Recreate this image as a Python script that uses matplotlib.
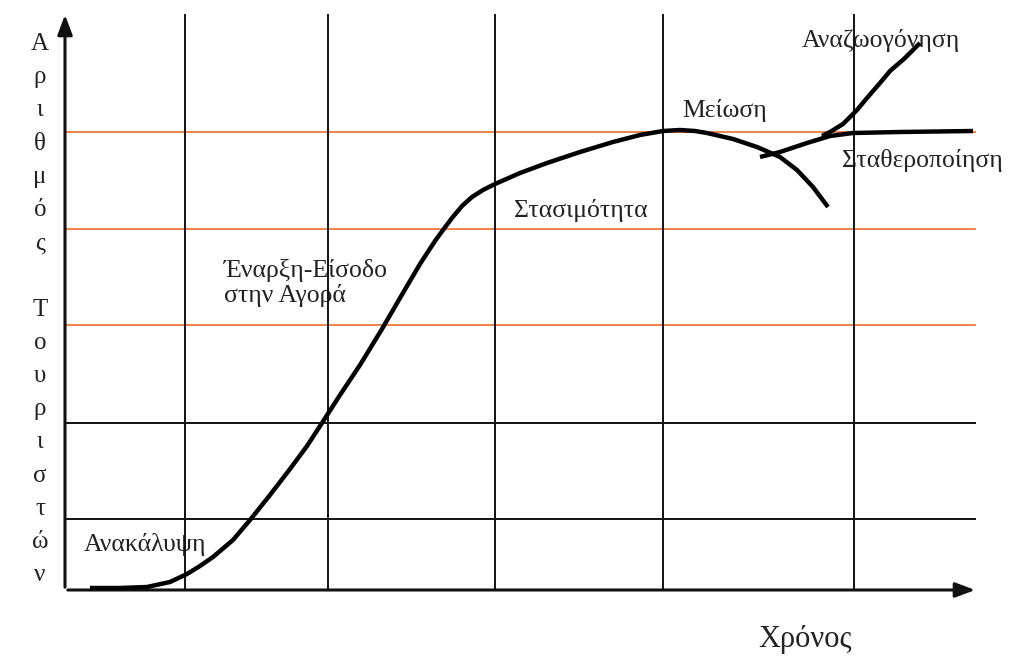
import matplotlib
matplotlib.use('Agg')
import matplotlib.pyplot as plt

# coordonnées en pixels de l'image (y vers le bas)
time_grid = [185, 328, 495, 663, 854]
level_grid_orange = [132, 229, 325]
level_grid_black = [423, 519]

x_axis = [65, 965]
y_axis = [590, 25]

main_x = [90, 120, 147, 170, 187, 200, 213, 233, 250, 270, 290, 307, 322, 340,
          360, 382, 400, 420, 435, 443, 452, 462, 472, 483, 495, 520, 547, 580,
          613, 640, 663, 680, 695, 707]
main_y = [588, 588, 587, 582, 574, 566, 557, 540, 520, 495, 469, 446, 423, 395,
          365, 329, 298, 264, 241, 230, 218, 206, 197, 190, 184, 173, 163, 152,
          142, 135, 131, 130, 131, 133]

decline_x = [707, 733, 757, 780, 797, 813, 828]
decline_y = [133, 139, 147, 157, 170, 187, 207]

stab_x = [760, 780, 807, 830, 853, 900, 973]
stab_y = [157, 152, 143, 136, 133, 132, 131]

rejuv_x = [822, 830, 843, 857, 867, 880, 890, 905, 920]
rejuv_y = [136, 132, 124, 110, 98, 83, 71, 58, 43]

stage_labels = ['Ανακάλυψη', 'Έναρξη-Είσοδο\nστην Αγορά', 'Στασιμότητα',
                'Μείωση', 'Αναζωογόνηση', 'Σταθεροποίηση']
stage_pos = [(84, 545), (224, 283), (514, 210), (682, 110), (802, 40), (842, 160)]

ylabel_letters = list('Αριθμός') + [''] + list('Τουριστών')
ylabel_x = 40
ylabel_top, ylabel_step = 44, 33.2

plt.rcParams['font.family'] = ['Liberation Serif', 'DejaVu Serif']

fig = plt.figure(figsize=(10.11, 6.61), dpi=100)
ax = fig.add_axes([0, 0, 1, 1])
ax.set_xlim(0, 1011)
ax.set_ylim(661, 0)
ax.axis('off')

orange = '#EC7A3C'
for y in level_grid_orange:
    ax.plot([x_axis[0], 975], [y, y], color=orange, lw=1.3, zorder=1)
for y in level_grid_black:
    ax.plot([x_axis[0], 975], [y, y], color='#111111', lw=1.4, zorder=1)
for x in time_grid:
    ax.plot([x, x], [15, y_axis[0]], color='#111111', lw=1.4, zorder=1)

# axes avec flèches
ax.annotate('', xy=(978, y_axis[0]), xytext=(x_axis[0], y_axis[0]),
            arrowprops=dict(arrowstyle='-|>,head_length=1.2,head_width=0.45',
                            color='#111111', lw=2.2), zorder=2)
ax.annotate('', xy=(x_axis[0], 12), xytext=(x_axis[0], y_axis[0]),
            arrowprops=dict(arrowstyle='-|>,head_length=1.2,head_width=0.45',
                            color='#111111', lw=2.2), zorder=2)

for xs, ys in [(main_x, main_y), (decline_x, decline_y), (stab_x, stab_y), (rejuv_x, rejuv_y)]:
    ax.plot(xs, ys, color='black', lw=3.2, solid_capstyle='butt',
            solid_joinstyle='round', zorder=3)

for txt, (x, y) in zip(stage_labels, stage_pos):
    ax.text(x, y, txt, fontsize=18.5, ha='left', va='center', color='#222222',
            linespacing=1.15, zorder=0)

for i, ch in enumerate(ylabel_letters):
    ax.text(ylabel_x, ylabel_top + i * ylabel_step, ch, fontsize=18,
            ha='center', va='center', color='#222222')

ax.text(805, 640, 'Χρόνος', fontsize=22, ha='center', va='center', color='#222222')

fig.savefig('out.png', dpi=100)
